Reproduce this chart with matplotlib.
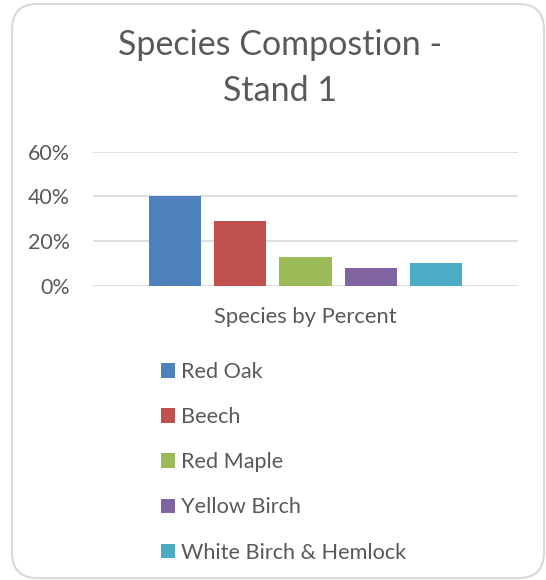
import numpy as np
import matplotlib.pyplot as plt
from matplotlib.patches import FancyBboxPatch, Patch

# data
species = ['Red Oak', 'Beech', 'Red Maple', 'Yellow Birch', 'White Birch & Hemlock']
percent = [40, 29, 13, 8, 10]
colors = ['#4F81BD', '#C0504D', '#9BBB59', '#8064A2', '#4BACC6']
yticks = [0, 20, 40, 60]

plt.rcParams['font.family'] = ['Lato', 'DejaVu Sans']
txt = '#595959'
W, H = 546, 580

fig = plt.figure(figsize=(W / 100, H / 100), dpi=100)

# rounded chart border
fig.patches.append(FancyBboxPatch((12 / W, 2 / H), 532 / W, 574 / H,
                                  boxstyle='round,pad=0,rounding_size=0.045',
                                  transform=fig.transFigure, facecolor='white',
                                  edgecolor='#D9D9D9', linewidth=1.5, zorder=-1))

# plot area: x 93..518 px, y 151.7..285.7 px
ax = fig.add_axes([93 / W, 1 - 285.7 / H, 425 / W, 134 / H])
ax.patch.set_visible(False)

x = np.arange(len(species))
ax.bar(x, percent, width=0.8, color=colors, zorder=3)

ax.set_xlim(-1.265, 5.265)
ax.set_ylim(0, 60)
ax.set_yticks(yticks)
ax.set_yticklabels([f'{v}%' for v in yticks], color=txt, fontsize=15.4)
ax.tick_params(axis='y', length=0, pad=16.5)
ax.set_xticks([])
ax.grid(axis='y', color='#D9D9D9', linewidth=1.2, zorder=0)
for s in ax.spines.values():
    s.set_visible(False)

ax.set_xlabel('Species by Percent', color=txt, fontsize=15.8, labelpad=15)

# title is centred on the whole chart box, not the plot area
fig.text(280 / W, 1 - 55 / H, 'Species Compostion -', ha='center',
         va='baseline', fontsize=24.5, color=txt)
fig.text(280 / W, 1 - 100.7 / H, 'Stand 1', ha='center',
         va='baseline', fontsize=24.5, color=txt)

handles = [Patch(facecolor=c, edgecolor='none') for c in colors]
fig.legend(handles, species, loc='upper left', bbox_to_anchor=(161 / W, 1 - 362 / H),
           frameon=False, fontsize=15.6, labelcolor=txt, handlelength=0.65,
           handleheight=0.65, handletextpad=0.28, labelspacing=1.16, borderpad=0,
           borderaxespad=0)

plt.savefig('out.png', dpi=100)
